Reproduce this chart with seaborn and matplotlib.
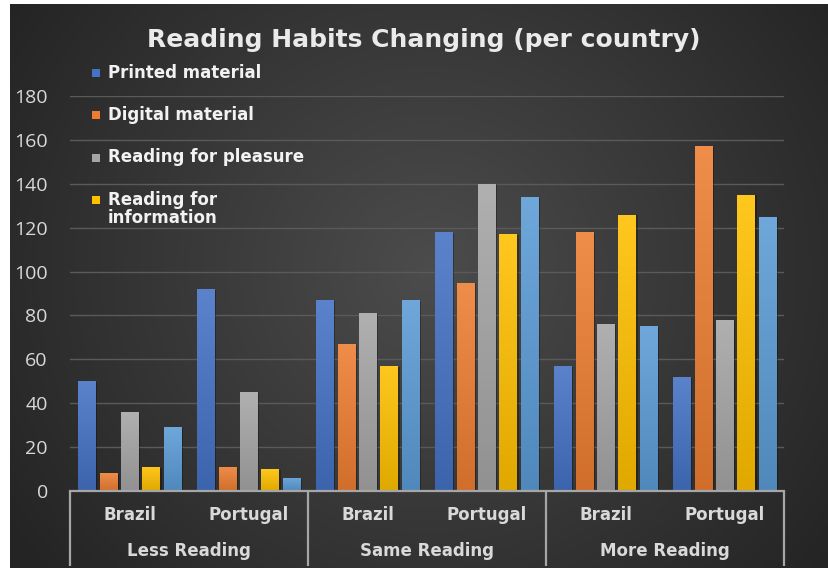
import numpy as np
import pandas as pd
import matplotlib
matplotlib.use("Agg")
import matplotlib.pyplot as plt
import seaborn as sns
from matplotlib.patches import Rectangle
from matplotlib import patheffects
from matplotlib.colors import to_rgb

# ---- data ----
title = "Reading Habits Changing (per country)"
groups = ["Less Reading", "Same Reading", "More Reading"]
countries = ["Brazil", "Portugal"]
series = ["Printed material", "Digital material", "Reading for pleasure",
          "Reading for information", "Other"]
legend_labels = ["Printed material", "Digital material", "Reading for pleasure",
                 "Reading for\ninformation"]

printed = [50, 92, 87, 118, 57, 52]
digital = [8, 11, 67, 95, 118, 157]
pleasure = [36, 45, 81, 140, 76, 78]
information = [11, 10, 57, 117, 126, 135]
other = [29, 6, 87, 134, 75, 125]

colors = ["#4472C4", "#ED7D31", "#A5A5A5", "#FFC000", "#5B9BD5"]

slots = [f"{g}|{c}" for g in groups for c in countries]
rows = []
for name, vals in zip(series, [printed, digital, pleasure, information, other]):
    for slot, v in zip(slots, vals):
        rows.append({"slot": slot, "series": name, "value": v})
df = pd.DataFrame(rows)

# ---- figure ----
W, H = 829, 568
fig = plt.figure(figsize=(W / 100, H / 100), dpi=100, facecolor="white")

# dark radial background
bg = fig.add_axes([10 / W, 0, (W - 10) / W, (H - 4) / H])
bg.axis("off")
yy, xx = np.mgrid[0:1:300j, 0:1:400j]
cx, cy = (430 - 10) / 819, 0.47
r = np.sqrt(((xx - cx) / 0.62) ** 2 + ((yy - cy) / 0.85) ** 2)
t = np.clip(r, 0, 1)[..., None]
inner = np.array(to_rgb("#4c4c4c"))
outer = np.array(to_rgb("#242424"))
bg.imshow(inner * (1 - t) + outer * t, aspect="auto", extent=(0, 1, 0, 1),
          origin="upper")
bg.set_xlim(0, 1)
bg.set_ylim(0, 1)

ax = fig.add_axes([70 / W, 77 / H, 714 / W, 395 / H])
ax.patch.set_alpha(0)

sns.barplot(data=df, x="slot", y="value", hue="series", order=slots,
            hue_order=series, palette=colors, width=0.9, gap=0.2,
            saturation=1, linewidth=0, legend=False, errorbar=None, ax=ax)

# vertical gradient on each bar plus a soft drop shadow
for patch in list(ax.patches):
    x0, w = patch.get_x(), patch.get_width()
    h = patch.get_height()
    if h <= 0:
        continue
    base = np.array(patch.get_facecolor()[:3])
    top = base + (1 - base) * 0.12
    bot = base * 0.88
    s = np.linspace(0, 1, 64)[:, None, None]
    grad = top * (1 - s) + bot * s
    im = ax.imshow(grad, extent=(x0, x0 + w, 0, h), aspect="auto",
                   origin="upper", zorder=patch.get_zorder() + 0.1)
    im.set_clip_path(patch)
    patch.set_path_effects([
        patheffects.SimplePatchShadow(offset=(1.5, -0.5), shadow_rgbFace="black",
                                      alpha=0.3),
        patheffects.Normal()])

ax.set_xlim(-0.5, 5.5)
ax.set_ylim(0, 180)
ax.set_aspect("auto")

ax.set_yticks(np.arange(0, 181, 20))
ax.tick_params(axis="y", length=0, pad=16, labelsize=14, labelcolor="#D9D9D9")
for lab in ax.get_yticklabels():
    lab.set_fontfamily("Open Sans")
ax.set_xticks([])
ax.set_xlabel("")
ax.set_ylabel("")
ax.yaxis.grid(True, color="#5a5a5a", lw=1)
ax.set_axisbelow(True)
for side in ["top", "right", "left"]:
    ax.spines[side].set_visible(False)
ax.spines["bottom"].set_color("#A6A6A6")
ax.spines["bottom"].set_linewidth(1.6)

# two-level category axis
ah = 395
xt = ax.get_xaxis_transform()
for i, slot in enumerate(slots):
    ax.text(i, -24 / ah, slot.split("|")[1], transform=xt, ha="center",
            va="center", fontsize=12, fontweight="bold", color="#D9D9D9")
for k, g in enumerate(groups):
    ax.text(2 * k + 0.5, -60 / ah, g, transform=xt, ha="center", va="center",
            fontsize=12, fontweight="bold", color="#D9D9D9")
for xb in [-0.5, 1.5, 3.5, 5.5]:
    ax.plot([xb, xb], [0, -75 / ah], transform=xt, color="#A6A6A6", lw=1.6,
            clip_on=False, solid_capstyle="butt")

# title
fig.text(424 / W, 1 - 46.7 / H, title, ha="center", va="baseline",
         fontsize=18, fontweight="bold", color="#EAEAEA")

# legend (first four series)
entry_y = [72.5, 115, 157.5, 209]
for lab, col, yc in zip(legend_labels, colors, entry_y):
    my = 200 if "\n" in lab else yc
    fig.add_artist(Rectangle((92 / W, 1 - (my + 4) / H), 8 / W, 8 / H,
                             transform=fig.transFigure, facecolor=col,
                             edgecolor="none"))
    fig.text(108 / W, 1 - yc / H, lab, ha="left", va="center", fontsize=12,
             fontweight="bold", color="#F2F2F2", linespacing=1.0)

fig.savefig("out.png", dpi=100, facecolor=fig.get_facecolor())
